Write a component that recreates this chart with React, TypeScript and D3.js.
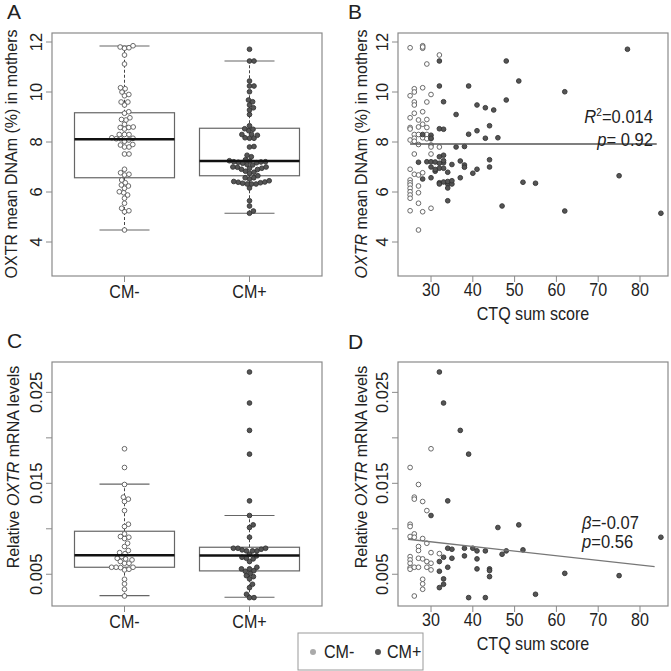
import React from "react";
import * as d3 from "d3";

// ---------- Data ----------
// Panel A/B: OXTR mean DNAm (%) vs CTQ sum score
const dnamNegCtq = [25, 28, 28, 29, 32, 26, 26, 28, 25, 30, 26, 26, 29, 28, 26, 25, 27, 29, 28, 27, 25, 25, 29, 26, 27, 29, 25, 26, 26, 28, 29, 30, 27, 30, 30, 32, 26, 30, 25, 26, 27, 28, 25, 25, 25, 25, 25, 25, 25, 27, 27, 25, 27, 28, 30, 27, 28];
const dnamNegVal = [11.77, 11.85, 11.75, 11.12, 11.48, 10.13, 10.0, 10.17, 9.85, 9.9, 9.6, 9.48, 9.6, 9.21, 9.15, 8.97, 8.88, 8.9, 8.71, 8.6, 8.58, 8.52, 8.58, 8.3, 8.3, 8.3, 8.08, 8.15, 8.03, 8.17, 8.13, 8.13, 7.9, 7.88, 7.8, 7.8, 7.52, 7.52, 6.91, 6.71, 6.68, 6.77, 6.48, 6.37, 6.28, 6.15, 6.01, 5.88, 5.75, 6.24, 5.97, 5.25, 5.55, 5.21, 5.35, 4.48, 11.8];
const dnamPosCtq = [32, 48, 77, 32, 39, 51, 62, 33, 48, 41, 43, 45, 36, 32, 33, 44, 41, 39, 28, 30, 30, 43, 46, 36, 38, 33, 32, 37, 27, 29, 30, 44, 33, 35, 38, 38, 44, 32, 33, 41, 31, 34, 40, 75, 28, 30, 37, 32, 32, 34, 35, 34, 52, 55, 34, 47, 62, 85, 31, 32, 33, 34, 30, 35, 33, 31];
const dnamPosVal = [11.24, 11.24, 11.71, 10.24, 10.24, 10.44, 10.01, 9.61, 9.68, 9.48, 9.37, 9.28, 9.1, 8.53, 8.51, 8.65, 8.45, 8.31, 8.3, 8.27, 8.15, 8.15, 8.17, 7.8, 7.82, 7.47, 7.41, 7.24, 7.19, 7.21, 7.21, 7.29, 7.17, 7.1, 7.08, 6.99, 7.0, 6.95, 6.95, 6.91, 6.83, 6.79, 6.75, 6.65, 6.52, 6.57, 6.57, 6.37, 6.32, 6.32, 6.32, 6.16, 6.39, 6.35, 5.65, 5.44, 5.24, 5.15, 7.2, 7.15, 6.4, 6.42, 7.0, 6.45, 7.25, 6.9];

// Panel C/D: relative OXTR mRNA levels vs CTQ sum score
const mrnaNegCtq = [30, 25, 27, 26, 26, 28, 29, 25, 25, 26, 25, 26, 28, 29, 27, 27, 30, 32, 25, 25, 25, 25, 25, 26, 27, 28, 27, 29, 29, 30, 30, 28, 28, 28, 26];
const mrnaNegVal = [0.0188, 0.01674, 0.01487, 0.01348, 0.01326, 0.013, 0.012, 0.0105, 0.01025, 0.00944, 0.00915, 0.00907, 0.00893, 0.00841, 0.00805, 0.00761, 0.00738, 0.00727, 0.00694, 0.00658, 0.00621, 0.00573, 0.00555, 0.00577, 0.00676, 0.00669, 0.00577, 0.0064, 0.00577, 0.00621, 0.00548, 0.00445, 0.00394, 0.00335, 0.00261];
const mrnaPosCtq = [32, 33, 37, 39, 34, 30, 46, 51, 85, 34, 35, 38, 40, 41, 43, 47, 48, 52, 33, 35, 38, 32, 41, 34, 32, 41, 44, 44, 62, 75, 44, 33, 32, 33, 39, 43, 55];
const mrnaPosVal = [0.02724, 0.02383, 0.02082, 0.01821, 0.01307, 0.01146, 0.01014, 0.01043, 0.00907, 0.00786, 0.00775, 0.00786, 0.00786, 0.00757, 0.00757, 0.0072, 0.00757, 0.00768, 0.00687, 0.00676, 0.00702, 0.0064, 0.00669, 0.00577, 0.00533, 0.00559, 0.00559, 0.0054, 0.0051, 0.00485, 0.00474, 0.00449, 0.00353, 0.0039, 0.00243, 0.00243, 0.0028];

// Box statistics [lower whisker, Q1, median, Q3, upper whisker]
const boxANeg = [4.48, 6.57, 8.11, 9.17, 11.84];
const boxAPos = [5.15, 6.65, 7.24, 8.55, 11.24];
const boxCNeg = [0.00265, 0.00577, 0.00709, 0.00973, 0.01491];
const boxCPos = [0.00247, 0.00537, 0.00706, 0.00797, 0.01146];

const groups = ["CM-", "CM+"];
const dnamTicks = [4, 6, 8, 10, 12];
const mrnaTicks = [0.005, 0.01, 0.015, 0.02, 0.025];
const mrnaTickLabels = ["0.005", "", "0.015", "", "0.025"];
const ctqTicks = [30, 40, 50, 60, 70, 80];

// regression lines [x0, x1], [y0, y1]
const regBx = [25, 84];
const regBy = [7.92, 7.92];
const regDx = [24.5, 83.5];
const regDy = [0.00885, 0.00584];

// ---------- Style ----------
const FONT = "Liberation Sans, Arial, Helvetica, sans-serif";
const TXT = "#222";
const FRAME = "#8a8a8a";
const OPEN_STROKE = "#5a5a5a";
const DARK_FILL = "#555";
const DARK_STROKE = "#333";
const R = 2.35;
const HFS = 17.5; // horizontal label font size (drawn slightly condensed)
const HSX = 0.92;

type Pt = { v: number; x: number };

function beeswarm(values: number[], yScale: (v: number) => number, d: number): Pt[] {
  const sorted = [...values].sort((a, b) => a - b);
  const placed: { y: number; x: number; v: number }[] = [];
  for (const v of sorted) {
    const y = yScale(v);
    const cands = [0];
    for (const p of placed) {
      const dy = Math.abs(p.y - y);
      if (dy < d) {
        const dx = Math.sqrt(d * d - dy * dy);
        cands.push(p.x + dx + 0.01, p.x - dx - 0.01);
      }
    }
    cands.sort((a, b) => Math.abs(a) - Math.abs(b));
    let chosen = 0;
    for (const c of cands) {
      let ok = true;
      for (const p of placed) {
        const dx = p.x - c;
        const dy = p.y - y;
        if (dx * dx + dy * dy < d * d - 0.001) {
          ok = false;
          break;
        }
      }
      if (ok) {
        chosen = c;
        break;
      }
    }
    placed.push({ y, x: chosen, v });
  }
  return placed.map((p) => ({ v: p.v, x: p.x }));
}

type PanelBox = { x0: number; x1: number; y0: number; y1: number };

const HText = ({ x, y, anchor, size, children }: { x: number; y: number; anchor?: string; size?: number; children: React.ReactNode }) => (
  <text
    transform={`translate(${x},${y}) scale(${HSX},1)`}
    textAnchor={anchor || "start"}
    fontSize={size || HFS}
    fontFamily={FONT}
    fill={TXT}
  >
    {children}
  </text>
);

const Frame = ({ b }: { b: PanelBox }) => (
  <rect x={b.x0} y={b.y0} width={b.x1 - b.x0} height={b.y1 - b.y0} fill="none" stroke={FRAME} strokeWidth={1.2} />
);

function YAxis({ b, y, ticks, labels }: { b: PanelBox; y: d3.ScaleLinear<number, number>; ticks: number[]; labels: string[] }) {
  return (
    <g>
      {ticks.map((t, i) => (
        <g key={i}>
          <line x1={b.x0} x2={b.x0 - 6} y1={y(t)} y2={y(t)} stroke={FRAME} strokeWidth={1} />
          {labels[i] ? (
            <text
              transform={`translate(${b.x0 - 10},${y(t)}) rotate(-90)`}
              textAnchor="middle"
              fontSize={16.5}
              fontFamily={FONT}
              fill={TXT}
            >
              {labels[i]}
            </text>
          ) : null}
        </g>
      ))}
    </g>
  );
}

function XAxisNum({ b, x, ticks }: { b: PanelBox; x: d3.ScaleLinear<number, number>; ticks: number[] }) {
  return (
    <g>
      {ticks.map((t, i) => (
        <g key={i}>
          <line x1={x(t)} x2={x(t)} y1={b.y1} y2={b.y1 + 6} stroke={FRAME} strokeWidth={1} />
          <HText x={x(t)} y={b.y1 + 20} anchor="middle">
            {t}
          </HText>
        </g>
      ))}
    </g>
  );
}

function BoxPanel({
  b,
  y,
  stats,
  data,
}: {
  b: PanelBox;
  y: d3.ScaleLinear<number, number>;
  stats: number[][];
  data: number[][];
}) {
  const gx = d3.scaleLinear().domain([0.42, 2.58]).range([b.x0, b.x1]);
  const unit = gx(2) - gx(1);
  return (
    <g>
      {stats.map((s, i) => {
        const cx = gx(i + 1);
        const hw = unit * 0.4;
        const cw = unit * 0.2;
        const pts = beeswarm(data[i], y, 4.5);
        return (
          <g key={i}>
            <line x1={cx} x2={cx} y1={y(s[0])} y2={y(s[1])} stroke="#444" strokeWidth={1} strokeDasharray="3,2" />
            <line x1={cx} x2={cx} y1={y(s[3])} y2={y(s[4])} stroke="#444" strokeWidth={1} strokeDasharray="3,2" />
            <line x1={cx - cw} x2={cx + cw} y1={y(s[0])} y2={y(s[0])} stroke="#666" strokeWidth={1.2} />
            <line x1={cx - cw} x2={cx + cw} y1={y(s[4])} y2={y(s[4])} stroke="#666" strokeWidth={1.2} />
            <rect x={cx - hw} y={y(s[3])} width={hw * 2} height={y(s[1]) - y(s[3])} fill="none" stroke="#666" strokeWidth={1.2} />
            {pts.map((p, j) => (
              <circle
                key={j}
                cx={cx + p.x}
                cy={y(p.v)}
                r={R}
                fill={i === 0 ? "white" : DARK_FILL}
                stroke={i === 0 ? OPEN_STROKE : DARK_STROKE}
                strokeWidth={0.9}
              />
            ))}
            <line x1={cx - hw} x2={cx + hw} y1={y(s[2])} y2={y(s[2])} stroke="#111" strokeWidth={2.6} />
            <line x1={cx} x2={cx} y1={b.y1} y2={b.y1 + 6} stroke={FRAME} strokeWidth={1} />
            <HText x={cx} y={b.y1 + 22} anchor="middle">
              {groups[i]}
            </HText>
          </g>
        );
      })}
    </g>
  );
}

function Scatter({
  x,
  y,
  negX,
  negY,
  posX,
  posY,
}: {
  x: d3.ScaleLinear<number, number>;
  y: d3.ScaleLinear<number, number>;
  negX: number[];
  negY: number[];
  posX: number[];
  posY: number[];
}) {
  return (
    <g>
      {negX.map((v, i) => (
        <circle key={"n" + i} cx={x(v)} cy={y(negY[i])} r={R} fill="white" stroke={OPEN_STROKE} strokeWidth={0.9} />
      ))}
      {posX.map((v, i) => (
        <circle key={"p" + i} cx={x(v)} cy={y(posY[i])} r={R} fill={DARK_FILL} stroke={DARK_STROKE} strokeWidth={0.9} />
      ))}
    </g>
  );
}

function YTitle({ x, y, children }: { x: number; y: number; children: React.ReactNode }) {
  return (
    <text transform={`translate(${x},${y}) rotate(-90)`} textAnchor="middle" fontSize={16} fontFamily={FONT} fill={TXT}>
      {children}
    </text>
  );
}

function PanelLabel({ x, y, t }: { x: number; y: number; t: string }) {
  return (
    <text x={x} y={y} fontSize={21} fontFamily={FONT} fill={TXT}>
      {t}
    </text>
  );
}

export default function App() {
  const A: PanelBox = { x0: 52, x1: 322, y0: 33, y1: 276 };
  const B: PanelBox = { x0: 398, x1: 668, y0: 33, y1: 276 };
  const C: PanelBox = { x0: 52, x1: 322, y0: 362, y1: 606 };
  const D: PanelBox = { x0: 398, x1: 668, y0: 362, y1: 606 };

  const yA = d3.scaleLinear().domain([2.64, 12.36]).range([A.y1, A.y0]);
  const yC = d3.scaleLinear().domain([0.00151, 0.02834]).range([C.y1, C.y0]);
  const xB = d3.scaleLinear().domain([22.1, 86.7]).range([B.x0, B.x1]);
  const xD = d3.scaleLinear().domain([22.1, 86.7]).range([D.x0, D.x1]);

  const dnamLabels = dnamTicks.map((t) => String(t));

  return (
    <svg width={671} height={671} style={{ position: "absolute", left: 0, top: 0, background: "white" }}>
      <rect x={0} y={0} width={671} height={671} fill="white" />

      {/* Panel A */}
      <PanelLabel x={7} y={19} t="A" />
      <Frame b={A} />
      <YAxis b={A} y={yA} ticks={dnamTicks} labels={dnamLabels} />
      <BoxPanel b={A} y={yA} stats={[boxANeg, boxAPos]} data={[dnamNegVal, dnamPosVal]} />
      <YTitle x={17} y={154}>OXTR mean DNAm (%) in mothers</YTitle>

      {/* Panel B */}
      <PanelLabel x={348} y={19} t="B" />
      <Frame b={B} />
      <YAxis b={B} y={yA} ticks={dnamTicks} labels={dnamLabels} />
      <XAxisNum b={B} x={xB} ticks={ctqTicks} />
      <Scatter x={xB} y={yA} negX={dnamNegCtq} negY={dnamNegVal} posX={dnamPosCtq} posY={dnamPosVal} />
      <line x1={xB(regBx[0])} x2={xB(regBx[1])} y1={yA(regBy[0])} y2={yA(regBy[1])} stroke="#555" strokeWidth={1.6} />
      <YTitle x={367} y={154}>
        <tspan fontStyle="italic">OXTR</tspan> mean DNAm (%) in mothers
      </YTitle>
      <HText x={533} y={320} anchor="middle">
        CTQ sum score
      </HText>
      <HText x={653} y={123} anchor="end" size={18}>
        <tspan fontStyle="italic">R</tspan>
        <tspan fontSize={11} dy={-7}>2</tspan>
        <tspan dy={7}>=0.014</tspan>
      </HText>
      <HText x={653} y={146} anchor="end" size={18}>
        <tspan fontStyle="italic">p</tspan>= 0.92
      </HText>

      {/* Panel C */}
      <PanelLabel x={7} y={348} t="C" />
      <Frame b={C} />
      <YAxis b={C} y={yC} ticks={mrnaTicks} labels={mrnaTickLabels} />
      <BoxPanel b={C} y={yC} stats={[boxCNeg, boxCPos]} data={[mrnaNegVal, mrnaPosVal]} />
      <YTitle x={19} y={467}>
        Relative <tspan fontStyle="italic">OXTR</tspan> mRNA levels
      </YTitle>

      {/* Panel D */}
      <PanelLabel x={348} y={349} t="D" />
      <Frame b={D} />
      <YAxis b={D} y={yC} ticks={mrnaTicks} labels={mrnaTickLabels} />
      <XAxisNum b={D} x={xD} ticks={ctqTicks} />
      <Scatter x={xD} y={yC} negX={mrnaNegCtq} negY={mrnaNegVal} posX={mrnaPosCtq} posY={mrnaPosVal} />
      <line x1={xD(regDx[0])} x2={xD(regDx[1])} y1={yC(regDy[0])} y2={yC(regDy[1])} stroke="#777" strokeWidth={1.3} />
      <YTitle x={367} y={467}>
        Relative <tspan fontStyle="italic">OXTR</tspan> mRNA levels
      </YTitle>
      <HText x={533} y={650} anchor="middle">
        CTQ sum score
      </HText>
      <HText x={582} y={529} size={18}>
        <tspan fontStyle="italic">β</tspan>=-0.07
      </HText>
      <HText x={582} y={548} size={18}>
        <tspan fontStyle="italic">p</tspan>=0.56
      </HText>

      {/* Legend */}
      <rect x={298} y={633} width={125} height={37} fill="white" stroke="#999" strokeWidth={1} />
      <circle cx={313} cy={652} r={3} fill="#aaa" />
      <HText x={324} y={658}>CM-</HText>
      <circle cx={378} cy={652} r={3} fill="#555" />
      <HText x={387} y={658}>CM+</HText>
    </svg>
  );
}
